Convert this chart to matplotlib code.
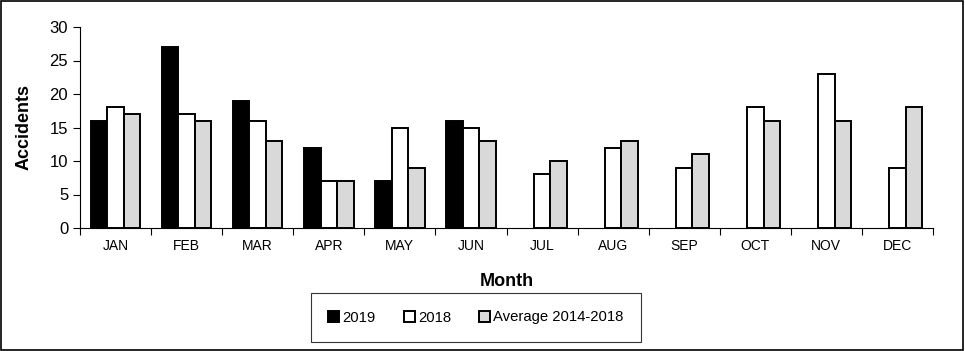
import numpy as np
import matplotlib
matplotlib.use("Agg")
import matplotlib.pyplot as plt
from matplotlib.patches import Rectangle

plt.rcParams["font.family"] = ["Liberation Sans", "DejaVu Sans"]

months = ["JAN", "FEB", "MAR", "APR", "MAY", "JUN",
          "JUL", "AUG", "SEP", "OCT", "NOV", "DEC"]
acc_2019 = [16, 27, 19, 12, 7, 16, np.nan, np.nan, np.nan, np.nan, np.nan, np.nan]
acc_2018 = [18, 17, 16, 7, 15, 15, 8, 12, 9, 18, 23, 9]
acc_avg = [17, 16, 13, 7, 9, 13, 10, 13, 11, 16, 16, 18]

fig = plt.figure(figsize=(9.65, 3.51), dpi=100)
ax = fig.add_axes([80 / 965, 1 - 228 / 351, 853 / 965, 201 / 351])

x = np.arange(len(months))
w = 0.232
kw = dict(edgecolor="black", linewidth=1.4)
ax.bar(x - w, acc_2019, w, color="black", label="2019", **kw)
ax.bar(x, acc_2018, w, color="white", label="2018", **kw)
ax.bar(x + w, acc_avg, w, color="#d9d9d9", label="Average 2014-2018", **kw)

ax.set_xlim(-0.5, len(months) - 0.5)
ax.set_ylim(0, 30)
ax.set_yticks(range(0, 31, 5))
ax.tick_params(axis="y", labelsize=12, length=5, width=0.8, direction="out")

ax.set_xticks(x)
ax.set_xticklabels(months)
ax.set_xticks(np.arange(-0.5, len(months)), minor=True)
ax.tick_params(axis="x", which="major", length=0, labelsize=10, pad=8)
ax.tick_params(axis="x", which="minor", length=5, width=0.8, direction="out")

for s in ["top", "right"]:
    ax.spines[s].set_visible(False)
for s in ["left", "bottom"]:
    ax.spines[s].set_linewidth(0.8)

ax.set_ylabel("Accidents", fontsize=13, fontweight="bold", labelpad=12)
ax.set_xlabel("Month", fontsize=13, fontweight="bold", labelpad=14)

leg = fig.legend(loc="center", bbox_to_anchor=(476 / 965, 1 - 317.5 / 351),
                 ncol=3, fontsize=10.7, frameon=True, fancybox=False,
                 handlelength=0.75, handleheight=0.75, handletextpad=0.2,
                 columnspacing=1.9, borderpad=1.15)
leg.get_frame().set_edgecolor("black")
leg.get_frame().set_linewidth(0.8)

fig.patches.append(Rectangle((0.001, 0.002), 0.997, 0.995, transform=fig.transFigure,
                             fill=False, edgecolor="black", linewidth=1.2))

fig.savefig("out.png", dpi=100)
